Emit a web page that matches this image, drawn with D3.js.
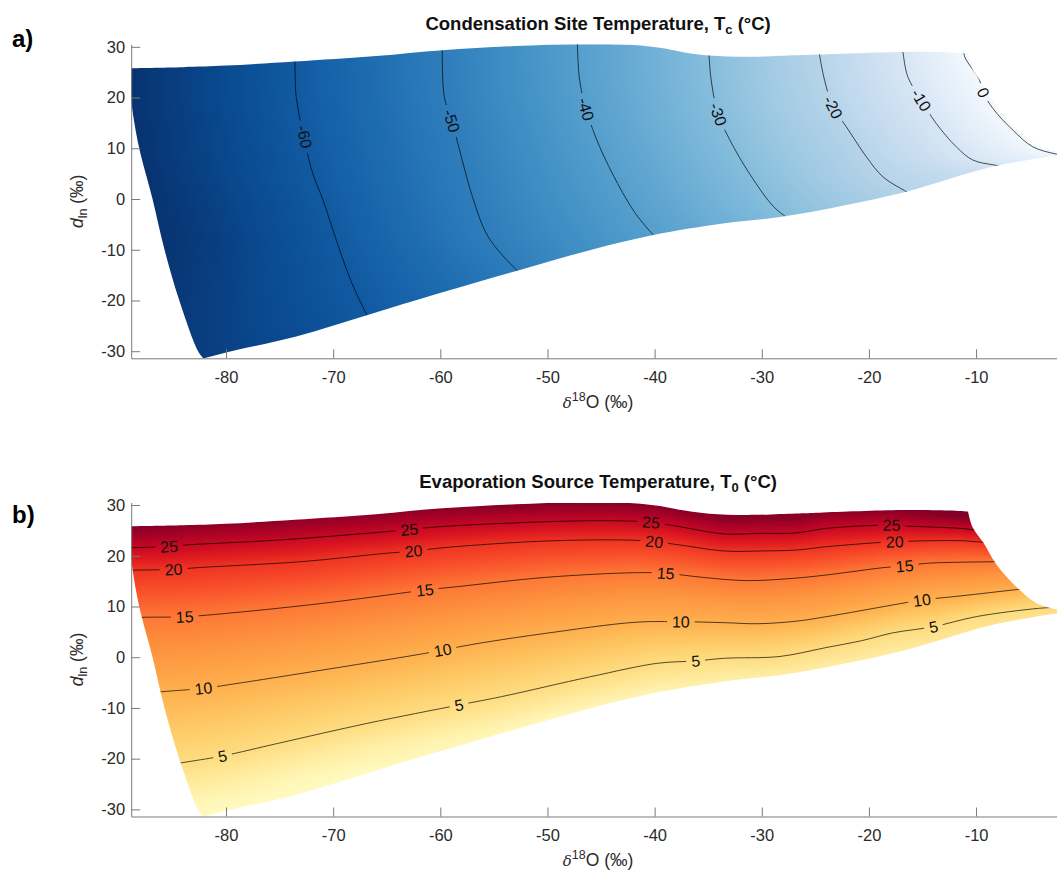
<!DOCTYPE html>
<html>
<head>
<meta charset="utf-8">
<script src="https://cdn.jsdelivr.net/npm/d3@7"></script>
<style>
  body { margin: 0; background: #fff; }
  svg { display: block; font-family: "Liberation Sans", Arial, Helvetica, sans-serif; }
</style>
</head>
<body>
<svg id="fig" width="1057" height="871"></svg>
<script>
// ---------- axes ----------
const xTicks = [-80, -70, -60, -50, -40, -30, -20, -10];
const yTicks = [-30, -20, -10, 0, 10, 20, 30];
const xLimits = [-88.85, -1.7];
const yLimits = [-31.4, 30.5];

// ---------- outline of the valid (δ18O, d_ln) region ----------
const edgeTop = [[-88.85,25.8],[-84,26.0],[-80,26.3],[-73.6,27.1],[-66,28.2],[-59.8,29.35],[-53,30.15],
  [-47.2,30.5],[-42,30.35],[-39.5,29.8],[-37.2,28.9],[-34.9,28.3],[-31.4,28.05],[-26.8,28.35],
  [-24.6,28.5],[-16.9,29.0],[-12.5,28.9],[-10.75,28.7]];
const edgeRight = [[-10.75,28.7],[-10.3,25.5],[-9.3,22.5],[-8.1,18.3],[-6.2,13.8],[-4.3,10.6],[-2.2,9.3],[-1.6,9.15]];
const edgeBottom = [[-1.6,9.15],[-1.6,8.8],[-2.5,8.6],[-8.47,6.36],[-16.52,1.44],[-22.11,-1.18],[-28.0,-3.45],
  [-33.47,-4.78],[-40.13,-7.09],[-45.97,-10.04],[-52.83,-14.12],[-60.12,-18.57],[-66.78,-22.85],
  [-73.45,-27.1],[-80,-30.27],[-82.1,-31.45]];
const edgeLeft = [[-82.1,-31.45],[-82.61,-30],[-84.36,-20],[-85.74,-10],[-86.86,0],[-88.1,10],[-88.7,17],
  [-88.85,20],[-88.85,25.8]];

// ---------- a) condensation site temperature contours ----------
const tcLevels = [-60, -50, -40, -30, -20, -10, 0];
const tcLines = [
  [[-73.6,28.2],[-73.55,25],[-73.45,20.15],[-72.0,5.7],[-70.95,-0.2],[-69.5,-9.4],[-68.25,-16.6],[-66.86,-22.85],[-66.3,-25]],
  [[-59.85,30.2],[-59.83,29.21],[-59.63,20.15],[-58.9,15.2],[-58.04,8.33],[-57.0,0.45],[-55.54,-7.42],[-52.83,-14.12],[-51.8,-16]],
  [[-47.22,31.2],[-47.21,30.47],[-47.0,23.44],[-46.38,17.53],[-45.13,10.3],[-43.46,3.09],[-41.8,-2.82],[-40.13,-7.09],[-39.5,-8.5]],
  [[-34.95,29.2],[-34.92,28.23],[-34.72,23.44],[-34.09,16.88],[-32.64,10.3],[-30.55,3.09],[-28.89,-1.52],[-27.64,-3.68],[-27.0,-4.6]],
  [[-24.65,29.5],[-24.6,28.37],[-24.14,23.44],[-23.36,18.18],[-22.11,14.24],[-20.24,8.33],[-18.7,4.39],[-16.67,1.64],[-15.8,0.6]],
  [[-16.9,30.0],[-16.83,29.02],[-16.37,24.09],[-15.12,19.5],[-13.72,14.9],[-11.85,10.3],[-10.3,7.68],[-8.28,6.7],[-7.3,6.4]],
  [[-11.15,29.5],[-11.06,28.03],[-9.68,23.44],[-9.37,21.14],[-8.44,17.87],[-6.57,13.59],[-4.71,10.3],[-2.52,8.87],[-1.5,8.6]]
];
const tcLabelY = [12.3, 15.4, 17.7, 16.7, 18.1, 19.5, 21.0];
const tcRange = [-72, 2];

// ---------- b) evaporation source temperature contours ----------
const t0Levels = [5, 10, 15, 20, 25];
const t0Lines = [
  [[-85,-21.1],[-84.07,-20.78],[-80.32,-19.46],[-75.11,-16.96],[-66.78,-13.02],[-58.25,-9.41],[-54.29,-7.77],
   [-45.96,-3.83],[-39.72,-1.19],[-36.17,-0.74],[-33.47,-0.21],[-28.3,0.15],[-24,1.9],[-20.6,3.3],[-17.77,4.8],
   [-13.98,6.02],[-9.98,8.0],[-4.08,9.65],[-1.5,9.9]],
  [[-87,-7.0],[-85.94,-6.79],[-82.11,-6.12],[-79.28,-5.27],[-70.95,-2.51],[-61.37,0.78],[-59.78,1.43],[-56.37,2.75],
   [-50.12,4.72],[-41.8,6.89],[-37.55,7.0],[-33.47,6.81],[-30.4,6.6],[-26.8,7.1],[-23.98,7.99],[-17.77,10.3],
   [-15.06,11.28],[-11.5,12.07],[-6.57,13.25],[-5.5,13.5]],
  [[-89.2,7.7],[-87.6,7.87],[-83.86,7.99],[-79.28,8.78],[-70.95,10.63],[-62.62,12.92],[-61.45,13.25],[-58.46,13.9],
   [-50.12,15.75],[-41.8,16.66],[-38.97,16.54],[-35.55,15.75],[-31.39,15.1],[-26.81,15.6],[-23.98,16.21],
   [-18.38,17.72],[-16.67,17.98],[-14.65,18.51],[-8.43,18.83],[-7.5,18.9]],
  [[-89.2,17.15],[-84.9,17.33],[-82.19,17.72],[-73.03,18.83],[-65.1,20.48],[-62.5,20.94],[-59.29,21.67],
   [-50.12,22.91],[-42.63,23.1],[-40.04,22.77],[-37.63,22.12],[-33.47,20.94],[-30.2,20.94],[-26.81,21.13],
   [-23.98,21.78],[-17.6,22.77],[-11.5,22.97],[-9.98,22.77],[-9.0,22.6]],
  [[-89.2,21.55],[-85.32,21.85],[-83.86,22.12],[-75.1,23.1],[-65.1,24.74],[-60.12,25.72],[-50.12,26.71],
   [-43.88,26.91],[-40.34,26.59],[-37.63,25.72],[-33.47,24.29],[-30.2,24.42],[-26.81,24.5],[-23.98,25.4],
   [-17.9,26.06],[-16.5,25.86],[-11.5,25.41],[-10.6,25.2],[-9.5,25.0]]
];
const t0LabelX = [
  [-80.32, -58.25, -36.17, -13.98],
  [-82.11, -59.78, -37.55, -15.06],
  [-83.86, -61.45, -38.97, -16.67],
  [-84.9, -62.5, -40.04, -17.6],
  [-85.32, -62.9, -40.34, -17.9]
];
const t0Range = [-1, 30];
// position along the YlOrRd ramp for each temperature
const t0RampT = [-1, 2, 5, 10, 15, 20, 25, 30];
const t0RampPos = [0, 0.06, 0.22, 0.385, 0.54, 0.69, 0.84, 1];

// ---------- layout ----------
const svg = d3.select('#fig');
const defs = svg.append('defs');
const x = d3.scaleLinear().domain(xLimits).range([131.2, 1065]);
const panelTops = [44.3, 502.5];
const plotH = 314;

const clamp01 = t => Math.max(0, Math.min(1, t));
const colorA = v => d3.interpolateBlues(clamp01((tcRange[1] - v) / (tcRange[1] - tcRange[0])));
const rampB = d3.scaleLinear().domain(t0RampT).range(t0RampPos).clamp(true);
const colorB = v => d3.interpolateYlOrRd(rampB(v));

// linear interpolation along a polyline sorted by column ia, extrapolating past its ends
function interpLine(pts, ia, ib, t) {
  const n = pts.length;
  let i = 0;
  if (t >= pts[n - 1][ia]) i = n - 2;
  else if (t > pts[0][ia]) { while (pts[i + 1][ia] < t) i++; }
  const p = pts[i], q = pts[i + 1];
  const f = (t - p[ia]) / (q[ia] - p[ia]);
  return p[ib] + f * (q[ib] - p[ib]);
}

function monotone(cr, dir) {
  const kept = [];
  cr.forEach(c => {
    if (!kept.length || (c.p - kept[kept.length - 1].p) * dir > 0.5) kept.push(c);
  });
  return kept.sort((a, b) => a.p - b.p);
}

function makeField(cr, lo, hi) {
  const n = cr.length;
  return p => {
    let v;
    if (n === 0) v = lo;
    else if (n === 1) v = cr[0].v;
    else {
      let i = 0;
      if (p >= cr[n - 1].p) i = n - 2;
      else if (p > cr[0].p) { while (cr[i + 1].p < p) i++; }
      const a = cr[i], b = cr[i + 1];
      v = a.v + (p - a.p) * (b.v - a.v) / (b.p - a.p);
    }
    return Math.max(lo, Math.min(hi, v));
  };
}

function stopPositions(ps, a, b) {
  const bp = [a, ...ps.filter(p => p > a && p < b), b].sort((m, n) => m - n);
  const out = [];
  for (let i = 0; i < bp.length - 1; i++) {
    for (let j = 0; j < 4; j++) out.push(bp[i] + (bp[i + 1] - bp[i]) * j / 4);
  }
  out.push(b);
  return out;
}

function outlinePath(y) {
  const line = d3.line().x(d => x(d[0])).y(d => y(d[1])).curve(d3.curveCatmullRom.alpha(0.5));
  return [edgeTop, edgeRight, edgeBottom, edgeLeft]
    .map((s, i) => { const p = line(s); return i ? p.replace(/^M/, 'L') : p; })
    .join('') + 'Z';
}

function drawPanel(k) {
  const top = panelTops[k];
  const bottom = top + plotH;
  const y = d3.scaleLinear().domain(yLimits).range([bottom, top]);
  const x0 = x.range()[0], x1 = x.range()[1];
  const id = k ? 'b' : 'a';
  const g = svg.append('g');

  defs.append('clipPath').attr('id', 'plot' + id)
    .append('rect').attr('x', x0).attr('y', top).attr('width', x1 - x0).attr('height', plotH);
  defs.append('clipPath').attr('id', 'dom' + id)
    .append('path').attr('d', outlinePath(y));

  const fillG = g.append('g').attr('clip-path', `url(#plot${id})`)
    .append('g').attr('clip-path', `url(#dom${id})`);

  if (k === 0) {
    // temperature varies along δ18O: one horizontal gradient per pixel row pair
    const sorted = tcLines.map(l => l.slice().sort((a, b) => a[1] - b[1]));
    for (let py = Math.floor(top); py < bottom; py += 2) {
      const yd = y.invert(py + 1);
      const cr = monotone(tcLevels.map((v, i) => ({ p: x(interpLine(sorted[i], 1, 0, yd)), v })), 1);
      const f = makeField(cr, tcRange[0], tcRange[1]);
      const gid = 'ga' + py;
      defs.append('linearGradient').attr('id', gid).attr('gradientUnits', 'userSpaceOnUse')
        .attr('x1', x0).attr('x2', x1).attr('y1', 0).attr('y2', 0)
        .selectAll('stop').data(stopPositions(cr.map(c => c.p), x0, x1)).join('stop')
        .attr('offset', p => (p - x0) / (x1 - x0)).attr('stop-color', p => colorA(f(p)));
      fillG.append('rect').attr('x', x0).attr('y', py).attr('width', x1 - x0).attr('height', 2)
        .attr('shape-rendering', 'crispEdges').attr('fill', `url(#${gid})`);
    }
  } else {
    // temperature varies along d_ln: one vertical gradient per pixel column pair
    const sorted = t0Lines.map(l => l.slice().sort((a, b) => a[0] - b[0]));
    for (let px = Math.floor(x0); px < 1057; px += 2) {
      const xd = x.invert(px + 1);
      const cr = monotone(t0Levels.map((v, i) => ({ p: y(interpLine(sorted[i], 0, 1, xd)), v })), -1);
      const f = makeField(cr, t0Range[0], t0Range[1]);
      const gid = 'gb' + px;
      defs.append('linearGradient').attr('id', gid).attr('gradientUnits', 'userSpaceOnUse')
        .attr('x1', 0).attr('x2', 0).attr('y1', top).attr('y2', bottom)
        .selectAll('stop').data(stopPositions(cr.map(c => c.p), top, bottom)).join('stop')
        .attr('offset', p => (p - top) / plotH).attr('stop-color', p => colorB(f(p)));
      fillG.append('rect').attr('x', px).attr('y', top).attr('width', 2).attr('height', plotH)
        .attr('shape-rendering', 'crispEdges').attr('fill', `url(#${gid})`);
    }
  }

  // contour labels (position on the line, rotated along it)
  const labels = [];
  if (k === 0) {
    const sorted = tcLines.map(l => l.slice().sort((a, b) => a[1] - b[1]));
    tcLevels.forEach((v, i) => {
      const yd = tcLabelY[i];
      const pA = [x(interpLine(sorted[i], 1, 0, yd + 1)), y(yd + 1)];
      const pB = [x(interpLine(sorted[i], 1, 0, yd - 1)), y(yd - 1)];
      labels.push({ v, px: x(interpLine(sorted[i], 1, 0, yd)), py: y(yd),
        ang: Math.atan2(pB[1] - pA[1], pB[0] - pA[0]) * 180 / Math.PI });
    });
  } else {
    const sorted = t0Lines.map(l => l.slice().sort((a, b) => a[0] - b[0]));
    t0Levels.forEach((v, i) => {
      t0LabelX[i].forEach(xd => {
        const pA = [x(xd - 1), y(interpLine(sorted[i], 0, 1, xd - 1))];
        const pB = [x(xd + 1), y(interpLine(sorted[i], 0, 1, xd + 1))];
        labels.push({ v, px: x(xd), py: y(interpLine(sorted[i], 0, 1, xd)),
          ang: Math.atan2(pB[1] - pA[1], pB[0] - pA[0]) * 180 / Math.PI });
      });
    });
  }

  const labelG = g.append('g');
  const texts = labelG.selectAll('text').data(labels).join('text')
    .attr('transform', d => `translate(${d.px},${d.py}) rotate(${d.ang})`)
    .attr('text-anchor', 'middle').attr('dy', '0.36em')
    .attr('font-size', 16).attr('fill', '#111')
    .text(d => d.v);
  texts.each(function (d) { d.w = this.getComputedTextLength(); });

  // gaps in the contour lines where labels sit
  const mask = defs.append('mask').attr('id', 'gap' + id).attr('maskUnits', 'userSpaceOnUse')
    .attr('x', 0).attr('y', 0).attr('width', 1057).attr('height', 871);
  mask.append('rect').attr('x', 0).attr('y', 0).attr('width', 1057).attr('height', 871).attr('fill', '#fff');
  mask.selectAll('rect.gap').data(labels).join('rect').attr('class', 'gap')
    .attr('x', d => -d.w / 2 - 5).attr('y', -8).attr('width', d => d.w + 10).attr('height', 16)
    .attr('transform', d => `translate(${d.px},${d.py}) rotate(${d.ang})`)
    .attr('fill', '#000');

  const line = d3.line().x(d => x(d[0])).y(d => y(d[1])).curve(d3.curveCatmullRom.alpha(0.5));
  const lineG = g.insert('g', () => labelG.node())
    .attr('clip-path', `url(#plot${id})`)
    .append('g').attr('clip-path', `url(#dom${id})`)
    .append('g').attr('mask', `url(#gap${id})`);
  lineG.selectAll('path').data(k ? t0Lines : tcLines).join('path')
    .attr('d', line).attr('fill', 'none').attr('stroke', '#000')
    .attr('stroke-width', 0.75).attr('stroke-opacity', 0.9);

  // axes
  const axB = g.append('g').attr('transform', `translate(0,${bottom})`)
    .call(d3.axisBottom(x).tickValues(xTicks).tickSizeInner(-9).tickSizeOuter(0).tickPadding(12.5).tickFormat(d3.format('d')));
  const axL = g.append('g').attr('transform', `translate(${x0},0)`)
    .call(d3.axisLeft(y).tickValues(yTicks).tickSizeInner(-9).tickSizeOuter(0).tickPadding(6).tickFormat(d3.format('d')));
  [axB, axL].forEach(ax => {
    ax.attr('font-family', null).attr('font-size', 16.5);
    ax.selectAll('path, line').attr('stroke', '#7a7a7a').attr('stroke-width', 1);
    ax.selectAll('text').attr('fill', '#2b2b2b').text(d => String(d).replace('\u2212', '-'));
  });

  // titles and axis labels
  const cx = (x0 + x1) / 2;
  const title = g.append('text').attr('x', cx).attr('y', top - 14.3)
    .attr('text-anchor', 'middle').attr('font-size', 18.5).attr('font-weight', 'bold').attr('fill', '#111');
  title.append('tspan').text(k ? 'Evaporation Source Temperature, T' : 'Condensation Site Temperature, T');
  title.append('tspan').attr('font-size', 13).attr('dy', 4).text(k ? '0' : 'c');
  title.append('tspan').attr('dy', -4).text(' (°C)');

  const xl = g.append('text').attr('x', cx).attr('y', bottom + 49.5)
    .attr('text-anchor', 'middle').attr('font-size', 17.5).attr('fill', '#2b2b2b');
  xl.append('tspan').attr('font-style', 'italic').attr('font-family', '"DejaVu Serif", serif').attr('font-size', 15).text('δ');
  xl.append('tspan').attr('font-size', 12.5).attr('dy', -7).text('18');
  xl.append('tspan').attr('dy', 7).text('O (‰)');

  const yl = g.append('text').attr('transform', `translate(83,${(top + bottom) / 2}) rotate(-90)`)
    .attr('text-anchor', 'middle').attr('font-size', 17.5).attr('fill', '#2b2b2b');
  yl.append('tspan').attr('font-style', 'italic').text('d');
  yl.append('tspan').attr('font-size', 12.5).attr('dy', 4).text('ln');
  yl.append('tspan').attr('dy', -4).text(' (‰)');

  g.append('text').attr('x', 12).attr('y', top + 2.7 + (k ? 18.2 : 0))
    .attr('font-size', 24).attr('font-weight', 'bold').attr('fill', '#000')
    .text(k ? 'b)' : 'a)');
}

drawPanel(0);
drawPanel(1);
</script>
</body>
</html>
